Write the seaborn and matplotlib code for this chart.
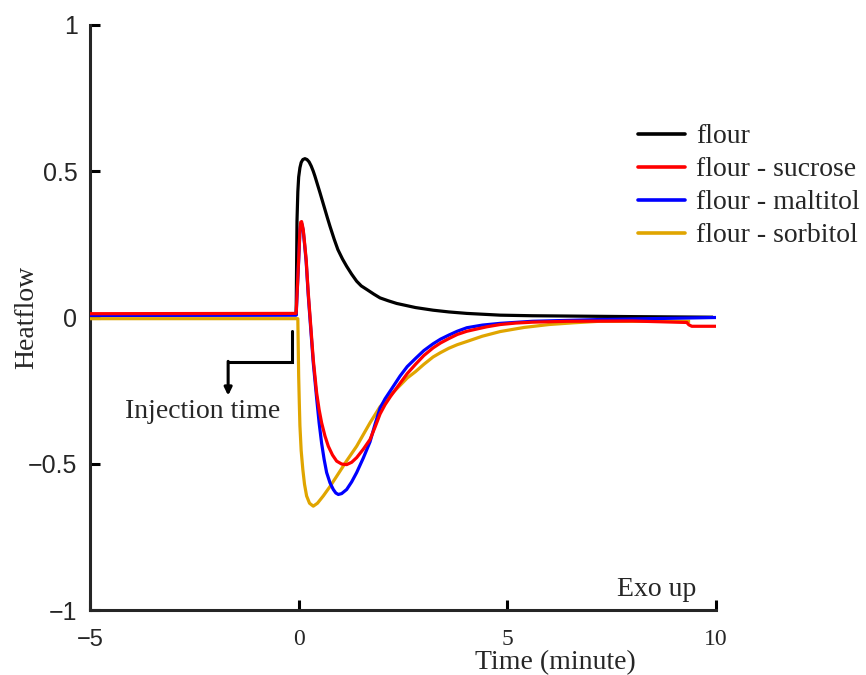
import numpy as np
import pandas as pd
import matplotlib
matplotlib.use("Agg")
import matplotlib.pyplot as plt
import seaborn as sns

# ---------------- data ----------------
flour_x = [-5.0, -0.06, -0.04, -0.02, 0.0, 0.03, 0.06, 0.10, 0.15, 0.20, 0.25, 0.30, 0.35,
           0.39, 0.45, 0.51, 0.57, 0.63, 0.69, 0.75, 0.85, 0.94, 1.05, 1.15, 1.27, 1.39,
           1.50, 1.63, 1.80, 1.95, 2.15, 2.35, 2.80, 3.22, 3.60, 4.03, 4.83, 5.60, 6.42,
           8.00, 9.93]
flour_y = [0.008, 0.010, 0.330, 0.430, 0.480, 0.512, 0.530, 0.540, 0.543, 0.540, 0.532, 0.518, 0.500,
           0.483, 0.455, 0.427, 0.398, 0.369, 0.340, 0.312, 0.268, 0.232, 0.200, 0.175, 0.148, 0.124,
           0.108, 0.096, 0.080, 0.067, 0.057, 0.048, 0.034, 0.025, 0.019, 0.014, 0.008, 0.006, 0.005,
           0.003, 0.001]

sucrose_x = [-5.0, -0.06, 0.0, 0.03, 0.05, 0.07, 0.09, 0.11, 0.145, 0.18, 0.205, 0.23, 0.26,
             0.29, 0.32, 0.35, 0.39, 0.43, 0.49, 0.55, 0.63, 0.71, 0.81, 0.91, 1.03, 1.15,
             1.27, 1.39, 1.55, 1.71, 1.83, 1.95, 2.07, 2.20, 2.43, 2.60, 2.80, 3.00, 3.22,
             3.40, 3.60, 3.80, 4.03, 4.50, 4.83, 5.20, 5.60, 6.43, 8.00, 9.30, 9.35, 9.42, 10.0]
sucrose_y = [0.013, 0.014, 0.200, 0.300, 0.326, 0.328, 0.315, 0.300, 0.250, 0.198, 0.140, 0.084, 0.027,
             -0.030, -0.087, -0.144, -0.200, -0.257, -0.315, -0.360, -0.405, -0.440, -0.470, -0.491, -0.501, -0.503,
             -0.495, -0.479, -0.450, -0.417, -0.375, -0.330, -0.298, -0.270, -0.225, -0.192, -0.160, -0.130, -0.104,
             -0.087, -0.072, -0.058, -0.047, -0.032, -0.024, -0.019, -0.016, -0.013, -0.012, -0.017, -0.025, -0.030, -0.030]

maltitol_x = [-5.0, -0.06, 0.0, 0.03, 0.05, 0.07, 0.09, 0.11, 0.145, 0.18, 0.23, 0.29, 0.35,
              0.43, 0.49, 0.55, 0.61, 0.67, 0.75, 0.83, 0.89, 0.95, 1.03, 1.15, 1.27, 1.39,
              1.55, 1.71, 1.83, 1.95, 2.07, 2.20, 2.43, 2.60, 2.80, 3.00, 3.22, 3.40, 3.60,
              3.80, 4.03, 4.40, 4.83, 5.60, 7.20, 10.0]
maltitol_y = [0.007, 0.008, 0.195, 0.295, 0.320, 0.322, 0.310, 0.295, 0.245, 0.190, 0.075, -0.040, -0.155,
              -0.275, -0.360, -0.430, -0.485, -0.530, -0.565, -0.588, -0.600, -0.605, -0.602, -0.588, -0.562, -0.530,
              -0.480, -0.425, -0.365, -0.310, -0.278, -0.250, -0.200, -0.168, -0.140, -0.113, -0.090, -0.074, -0.060,
              -0.047, -0.035, -0.026, -0.020, -0.013, -0.007, 0.000]

sorbitol_x = [-5.0, -0.02, 0.0, 0.015, 0.03, 0.06, 0.10, 0.14, 0.19, 0.26, 0.35, 0.45, 0.59,
              0.75, 0.91, 1.15, 1.39, 1.55, 1.71, 1.95, 2.20, 2.43, 2.60, 2.80, 3.00, 3.22,
              3.40, 3.60, 3.80, 4.03, 4.40, 4.83, 5.40, 6.00, 6.60, 7.20, 9.38]
sorbitol_y = [-0.004, -0.004, -0.200, -0.290, -0.370, -0.455, -0.520, -0.570, -0.610, -0.635, -0.645, -0.635, -0.610,
              -0.578, -0.543, -0.490, -0.440, -0.400, -0.360, -0.305, -0.265, -0.232, -0.207, -0.185, -0.160, -0.135,
              -0.120, -0.105, -0.093, -0.082, -0.064, -0.048, -0.034, -0.024, -0.018, -0.013, -0.013]

series_names = ["flour", "flour - sucrose", "flour - maltitol", "flour - sorbitol"]
series_colors = ["#000000", "#FF0000", "#0000FF", "#E0A500"]

x_ticks = [-5, 0, 5, 10]
x_ticklabels = ["\u22125", "0", "5", "10"]
y_ticks = [-1, -0.5, 0, 0.5, 1]
y_ticklabels = ["\u22121", "\u22120.5", "0", "0.5", "1"]

# ---------------- build table ----------------
frames = []
for name, xs, ys in zip(series_names,
                        [flour_x, sucrose_x, maltitol_x, sorbitol_x],
                        [flour_y, sucrose_y, maltitol_y, sorbitol_y]):
    frames.append(pd.DataFrame({"time": xs, "heat": ys, "series": name}))
df = pd.concat(frames, ignore_index=True)

sns.set_style("ticks")
plt.rcParams["font.family"] = ["Liberation Serif", "DejaVu Serif"]
plt.rcParams["axes.linewidth"] = 2.2

fig = plt.figure(figsize=(8.66, 6.75), dpi=100)
ax = fig.add_axes([90 / 866, 1 - 610 / 675, 626 / 866, 585 / 675])

sns.lineplot(data=df, x="time", y="heat", hue="series", hue_order=series_names,
             palette=series_colors, linewidth=2.3, ax=ax, sort=False, estimator=None)

zorders = {"flour": 2, "flour - sucrose": 5, "flour - maltitol": 4, "flour - sorbitol": 3}
for line, name in zip(ax.get_lines()[:4], series_names):
    line.set_zorder(zorders[name])
    line.set_solid_capstyle("butt")
    line.set_solid_joinstyle("round")

ax.set_xlim(-5, 10)
ax.set_ylim(-1, 1)
ax.set_xticks(x_ticks)
ax.set_xticklabels(x_ticklabels)
ax.set_yticks(y_ticks)
ax.set_yticklabels(y_ticklabels)
sns.despine(ax=ax)
ax.spines["left"].set_bounds(-1, 1)

ax.tick_params(axis="both", direction="in", length=7, width=2.2, color="black")
ax.tick_params(axis="y", pad=9)
ax.tick_params(axis="x", pad=14)
for lab in ax.get_yticklabels():
    lab.set_fontfamily(["Liberation Sans", "DejaVu Sans"])
    lab.set_fontsize(18)
for i, lab in enumerate(ax.get_xticklabels()):
    if i == 0:
        lab.set_fontfamily(["Liberation Sans", "DejaVu Sans"])
    else:
        lab.set_fontfamily(["Liberation Serif", "DejaVu Serif"])
    lab.set_fontsize(17)

ax.set_xlabel("Time (minute)", fontsize=20)
ax.xaxis.set_label_coords(0.743, -0.068)
ax.set_ylabel("Heatflow", fontsize=20)
ax.yaxis.set_label_coords(-0.081, 0.5)

# injection annotation
ax.plot([-0.17, -0.17, -1.69], [-0.047, -0.153, -0.153], color="black", lw=2.2,
        solid_joinstyle="miter", zorder=6)
ax.annotate("", xy=(-1.69, -0.267), xytext=(-1.69, -0.150),
            arrowprops=dict(arrowstyle="-|>,head_length=0.45,head_width=0.22",
                            color="black", lw=2.2, shrinkA=0, shrinkB=0), zorder=6)
ax.text(-2.30, -0.322, "Injection time", fontsize=20, ha="center", va="center")
ax.text(8.59, -0.93, "Exo up", fontsize=20, ha="center", va="center")

handles, labels = ax.get_legend_handles_labels()
leg = ax.legend(handles, labels, loc="upper left",
                bbox_to_anchor=(638 / 866, 1 - 124 / 675), bbox_transform=fig.transFigure,
                frameon=False, fontsize=20, handlelength=1.7, handletextpad=0.4,
                labelspacing=0.27, borderpad=0, borderaxespad=0)
for h in leg.get_lines():
    h.set_linewidth(2.6)

fig.savefig("out.png", dpi=100)
